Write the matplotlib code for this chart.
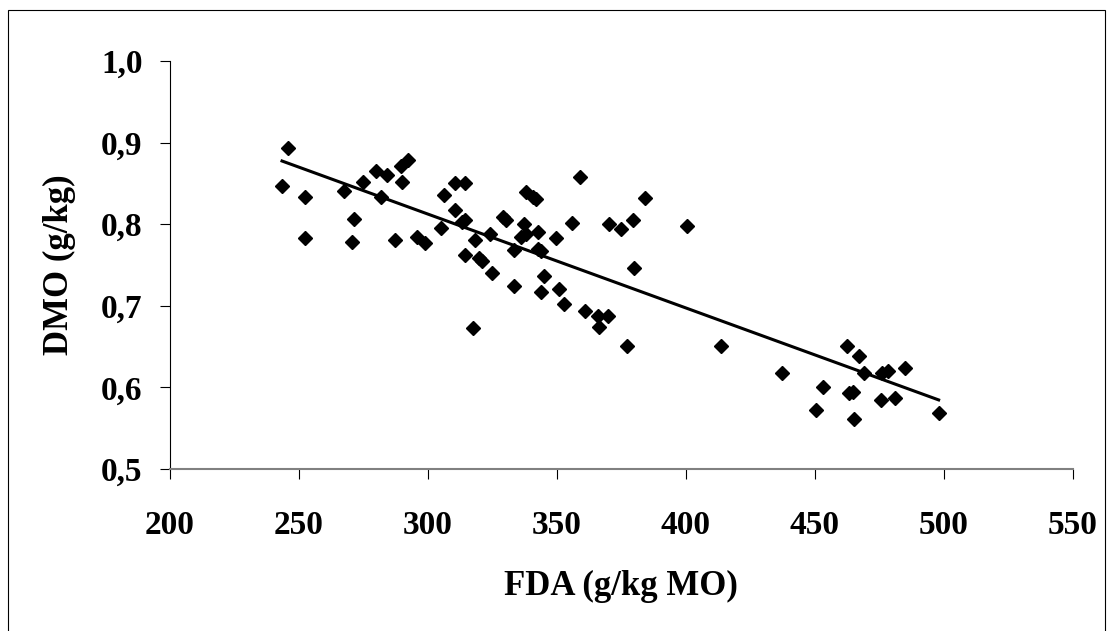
import numpy as np
import matplotlib
matplotlib.use("Agg")
import matplotlib.pyplot as plt
from matplotlib.ticker import FuncFormatter
from matplotlib.patches import Rectangle

# FDA (g/kg MO) and DMO (g/kg)
fda = [243.6, 245.8, 252.4, 252.4, 267.8, 271.6, 270.8, 274.9, 279.9, 282.1,
       284.3, 287.3, 289.8, 292.5, 290.0, 296.1, 299.1, 305.1, 306.2, 310.6,
       314.7, 310.6, 313.4, 314.5, 314.7, 317.5, 318.3, 320.0, 321.3, 324.3,
       324.9, 329.3, 330.4, 333.4, 333.4, 336.4, 337.2, 338.1, 338.1, 340.8,
       341.9, 342.7, 342.7, 344.1, 344.1, 345.2, 349.6, 351.0, 352.9, 355.9,
       359.2, 360.9, 366.1, 366.3, 369.9, 370.2, 375.1, 377.3, 379.8, 380.1,
       384.2, 400.7, 413.6, 437.2, 450.6, 453.1, 462.4, 463.5, 464.9, 465.4,
       467.4, 469.0, 475.6, 476.1, 478.3, 481.1, 485.2, 498.1]
dmo = [0.847, 0.894, 0.834, 0.783, 0.841, 0.807, 0.778, 0.852, 0.865, 0.833,
       0.860, 0.781, 0.872, 0.879, 0.852, 0.784, 0.777, 0.795, 0.836, 0.851,
       0.851, 0.818, 0.803, 0.805, 0.762, 0.673, 0.781, 0.759, 0.755, 0.788,
       0.740, 0.809, 0.805, 0.769, 0.724, 0.784, 0.800, 0.788, 0.839, 0.834,
       0.831, 0.790, 0.770, 0.767, 0.717, 0.736, 0.783, 0.720, 0.702, 0.802,
       0.858, 0.693, 0.688, 0.674, 0.687, 0.800, 0.794, 0.651, 0.805, 0.746,
       0.832, 0.798, 0.651, 0.617, 0.572, 0.600, 0.651, 0.593, 0.594, 0.561,
       0.638, 0.617, 0.585, 0.617, 0.620, 0.587, 0.624, 0.569]

x_ticks = [200, 250, 300, 350, 400, 450, 500, 550]
y_ticks = [0.5, 0.6, 0.7, 0.8, 0.9, 1.0]

plt.rcParams['font.family'] = ['Liberation Serif', 'DejaVu Serif']
plt.rcParams['font.weight'] = 'bold'

fig = plt.figure(figsize=(11.08, 6.31), dpi=100)
ax = fig.add_axes([0.153, 0.257, 0.815, 0.646])

# frame around the chart area
fig.patches.append(Rectangle((0.007, -0.01), 0.99, 0.994, transform=fig.transFigure,
                             fill=False, edgecolor='black', linewidth=0.8))

ax.plot(fda, dmo, linestyle='none', marker='D', color='black', markersize=7.5)

# linear trend line
k, b = np.polyfit(fda, dmo, 1)
xl = np.array([min(fda), max(fda)])
ax.plot(xl, k * xl + b, color='black', linewidth=2.2)

ax.set_xlim(200, 550)
ax.set_ylim(0.5, 1.0)
ax.set_xticks(x_ticks)
ax.set_yticks(y_ticks)
ax.yaxis.set_major_formatter(FuncFormatter(lambda v, p: f"{v:.1f}".replace('.', ',')))

for s in ['top', 'right']:
    ax.spines[s].set_visible(False)
ax.spines['left'].set_linewidth(0.8)
ax.spines['left'].set_color('black')
ax.spines['bottom'].set_linewidth(1.5)
ax.spines['bottom'].set_color('#808080')

ax.tick_params(axis='both', direction='out', length=7.5, width=0.8, color='black',
               labelsize=24)
ax.tick_params(axis='x', pad=22)
ax.tick_params(axis='y', pad=12)
for lab in ax.get_xticklabels() + ax.get_yticklabels():
    lab.set_fontweight('bold')

ax.set_xlabel('FDA (g/kg MO)', fontsize=25, fontweight='bold', va='center')
ax.set_ylabel('DMO (g/kg)', fontsize=25, fontweight='bold', va='center')
ax.xaxis.set_label_coords(0.5, -0.289)
ax.yaxis.set_label_coords(-0.122, 0.5)

fig.savefig('out.png', dpi=100)
